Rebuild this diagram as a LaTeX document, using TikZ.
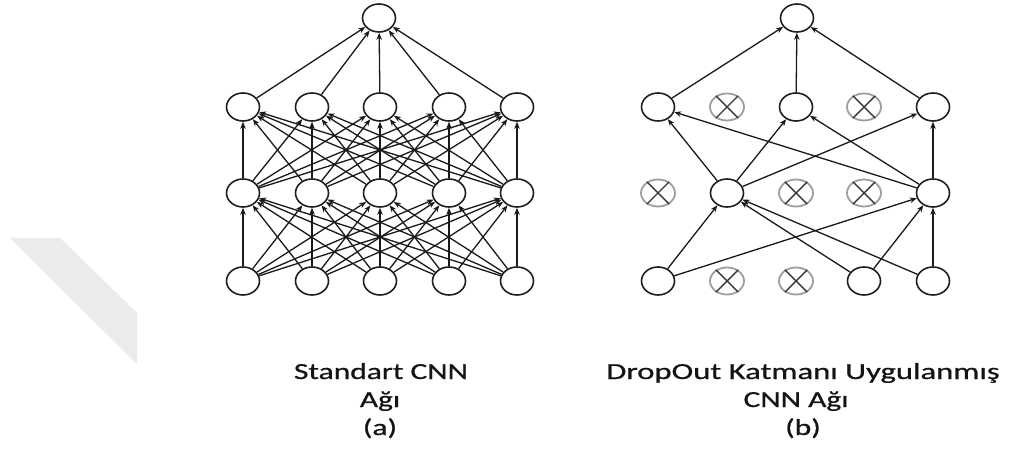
\documentclass[tikz,border=0pt]{standalone}
\usepackage{fontspec}
\setmainfont{Carlito}[FakeBold=0.6]
\usetikzlibrary{shapes.geometric,arrows.meta}
\begin{document}
\begin{tikzpicture}[x=1pt,y=-1pt,
  unit/.style={ellipse,draw=black!88,line width=1.6pt,fill=white,
    minimum width=33pt,minimum height=28pt,inner sep=0pt},
  dropped/.style={ellipse,draw=black!38,line width=1.8pt,fill=white,
    minimum width=34pt,minimum height=27pt,inner sep=0pt},
  cross/.style={draw=black!78,line width=1.4pt},
  link/.style={draw=black!90,line width=1.3pt,-{Stealth[length=7pt,width=5.5pt]}},
  caption/.style={anchor=base,text=black!92,font=\fontsize{23}{28}\selectfont,inner sep=0pt},
  band/.style={fill=black!8,draw=none}
]
\fill[white] (0,0) rectangle (1011,454);
\useasboundingbox (0,0) rectangle (1011,454);

% faint band on the left
\path[band] (10,238) -- (60,238) -- (137,313) -- (137,364) -- cycle;

% ---------- (a) standard network ----------
\node[unit] (Ltop) at (379,18) {};
\foreach \i/\x in {1/243,2/312,3/380,4/449,5/517}{
  \node[unit] (L2-\i) at (\x,107) {};
  \node[unit] (L1-\i) at (\x,193) {};
  \node[unit] (L0-\i) at (\x,281) {};
}
\foreach \i in {1,...,5}{
  \foreach \j in {1,...,5}{
    \draw[link] (L0-\i) -- (L1-\j);
    \draw[link] (L1-\i) -- (L2-\j);
  }
  \draw[link] (L2-\i) -- (Ltop);
}

% ---------- (b) network with dropout ----------
\node[unit] (Rtop) at (797,18) {};
\node[unit]    (R2-1) at (658,107) {};
\node[dropped] (R2-2) at (727,107) {};
\node[unit]    (R2-3) at (796,107) {};
\node[dropped] (R2-4) at (864,107) {};
\node[unit]    (R2-5) at (933,107) {};
\node[dropped] (R1-1) at (658,193) {};
\node[unit]    (R1-2) at (727,193) {};
\node[dropped] (R1-3) at (796,193) {};
\node[dropped] (R1-4) at (864,193) {};
\node[unit]    (R1-5) at (933,193) {};
\node[unit]    (R0-1) at (658,281) {};
\node[dropped] (R0-2) at (727,281) {};
\node[dropped] (R0-3) at (796,281) {};
\node[unit]    (R0-4) at (864,281) {};
\node[unit]    (R0-5) at (933,281) {};

\foreach \n in {R2-2,R2-4,R1-1,R1-3,R1-4,R0-2,R0-3}{
  \draw[cross] (\n.45) -- (\n.225) (\n.135) -- (\n.315);
}

\foreach \i in {1,3,5}{ \draw[link] (R2-\i) -- (Rtop); }
\foreach \s in {2,5}{
  \foreach \t in {1,3,5}{ \draw[link] (R1-\s) -- (R2-\t); }
}
\foreach \s in {1,4,5}{
  \foreach \t in {2,5}{ \draw[link] (R0-\s) -- (R1-\t); }
}

% ---------- captions ----------
\node[caption] (capA1) at (381,379) {\scalebox{1.37}[1]{Standart CNN}};
\node[caption] (capA2) at (380,407) {\scalebox{1.37}[1]{Ağı}};
\node[caption] (capA3) at (380,435) {\scalebox{1.37}[1]{(a)}};
\node[caption] (capB1) at (803,379) {\scalebox{1.42}[1]{DropOut Katmanı Uygulanmış}};
\node[caption] (capB2) at (796,407) {\scalebox{1.37}[1]{CNN Ağı}};
\node[caption] (capB3) at (803,435) {\scalebox{1.37}[1]{(b)}};
\end{tikzpicture}
\end{document}
